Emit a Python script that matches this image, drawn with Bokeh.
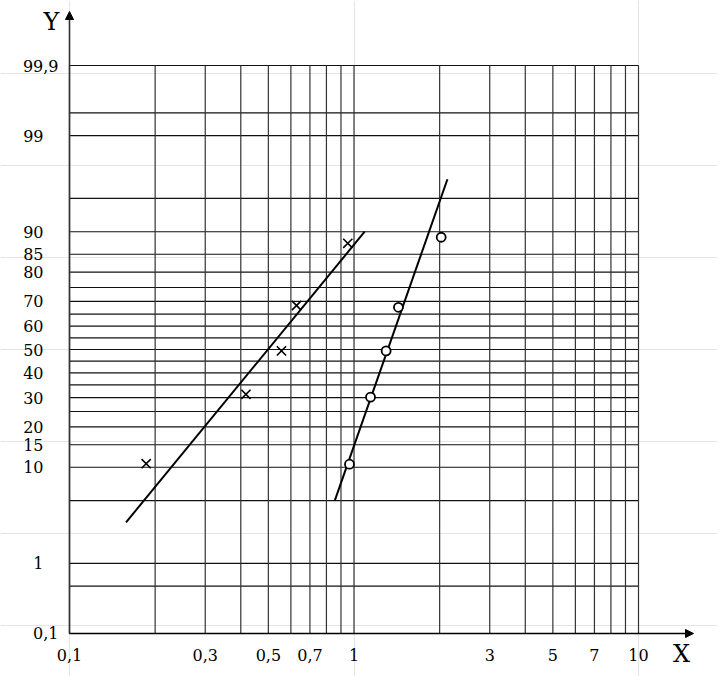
from statistics import NormalDist

from bokeh.plotting import figure
from bokeh.models import Range1d, LogScale, Arrow, NormalHead, Label, ColumnDataSource
from bokeh.core.properties import value
from bokeh.embed import file_html
from bokeh.resources import INLINE

# ---------------- data ----------------
x_grid = [0.1, 0.2, 0.3, 0.4, 0.5, 0.6, 0.7, 0.8, 0.9, 1, 2, 3, 4, 5, 6, 7, 8, 9, 10]
x_tick_values = [0.1, 0.3, 0.5, 0.7, 1, 3, 5, 7, 10]
x_tick_labels = ["0,1", "0,3", "0,5", "0,7", "1", "3", "5", "7", "10"]

y_grid = [0.1, 0.5, 1, 5, 10, 15, 20, 25, 30, 35, 40, 45, 50, 55, 60, 65, 70,
          75, 80, 85, 90, 95, 99, 99.5, 99.9]
y_tick_values = [0.1, 1, 10, 15, 20, 30, 40, 50, 60, 70, 80, 85, 90, 99, 99.9]
y_tick_labels = ["0,1", "1", "10", "15", "20", "30", "40", "50", "60", "70",
                 "80", "85", "90", "99", "99,9"]

cross_x = [0.186, 0.417, 0.556, 0.628, 0.951]
cross_y = [10.7, 31.3, 49.4, 68.4, 87.6]
circle_x = [0.964, 1.143, 1.297, 1.433, 2.025]
circle_y = [10.6, 30.2, 49.4, 67.7, 88.9]

cross_fit_x = [0.158, 1.09]
cross_fit_y = [3.0, 90.0]
circle_fit_x = [0.856, 2.13]
circle_fit_y = [5.0, 96.8]

# ---------------- probability (probit) transform ----------------
nd = NormalDist()


def probit(values):
    return [nd.inv_cdf(v / 100.0) for v in values]


# ---------------- layout ----------------
W, H = 717, 676
X0_PX = 69.0          # canvas px of x = 0.1
DEC_PX = 284.5        # px per decade
Z0_PX = 349.0         # canvas px (from top) of 50 %
SIG_PX = 91.9         # px per sigma

x_start = 10 ** (-1 - X0_PX / DEC_PX)
x_end = 10 ** (-1 + (W - X0_PX) / DEC_PX)
y_end = Z0_PX / SIG_PX
y_start = -(H - Z0_PX) / SIG_PX

p = figure(width=W, height=H, output_backend="svg", toolbar_location=None,
           x_axis_type="log", x_axis_location=None, y_axis_location=None,
           x_range=Range1d(x_start, x_end), y_range=Range1d(y_start, y_end),
           min_border=0, outline_line_color=None)
p.x_scale = LogScale()
p.background_fill_color = "white"
p.border_fill_color = "white"

FONT = value("DejaVu Serif")

zmin = probit([y_grid[0]])[0]
zmax = probit([y_grid[-1]])[0]
xmin, xmax = x_grid[0], x_grid[-1]

# grid
zg = probit(y_grid)
p.segment(x0=[xmin] * len(zg), x1=[xmax] * len(zg), y0=zg, y1=zg,
          line_color="#111111", line_width=1.2)
p.segment(x0=x_grid, x1=x_grid, y0=[zmin] * len(x_grid), y1=[zmax] * len(x_grid),
          line_color="#333333", line_width=1.2)

# axes with arrows
y_tip = (Z0_PX - 11) / SIG_PX
x_tip = 10 ** (-1 + (693 - X0_PX) / DEC_PX)
p.add_layout(Arrow(x_start=xmin, y_start=zmin, x_end=xmin, y_end=y_tip,
                   line_color="#333333", line_width=1.6,
                   end=NormalHead(size=8, fill_color="black", line_color="black")))
p.add_layout(Arrow(x_start=xmin, y_start=zmin, x_end=x_tip, y_end=zmin,
                   line_color="black", line_width=1.4,
                   end=NormalHead(size=8, fill_color="black", line_color="black")))

p.add_layout(Label(x=xmin, y=y_tip, text="Y", x_offset=-18, y_offset=-10,
                   text_align="center", text_baseline="middle",
                   text_font="DejaVu Serif", text_font_size="24px", text_color="black"))
p.add_layout(Label(x=x_tip, y=zmin, text="X", x_offset=-12, y_offset=-21,
                   text_align="center", text_baseline="middle",
                   text_font="DejaVu Serif", text_font_size="24px", text_color="black"))

# tick labels
p.text(x=x_tick_values, y=[zmin] * len(x_tick_values), text=x_tick_labels,
       text_align="center", text_baseline="middle", y_offset=22,
       text_font=FONT, text_font_size="16px", text_color="black")

yt = probit(y_tick_values)
src_y = ColumnDataSource(dict(
    x=[xmin] * len(yt), y=yt, text=y_tick_labels,
    xo=[-11 if "," in t else -26 for t in y_tick_labels]))
p.text(x="x", y="y", text="text", x_offset="xo", source=src_y,
       text_align="right", text_baseline="middle",
       text_font=FONT, text_font_size="16px", text_color="black")

# fitted lines
p.line(cross_fit_x, probit(cross_fit_y), line_color="black", line_width=2)
p.line(circle_fit_x, probit(circle_fit_y), line_color="black", line_width=2)

# data points
p.scatter(cross_x, probit(cross_y), marker="x", size=13, line_color="black",
          line_width=1.6)
p.scatter(circle_x, probit(circle_y), marker="circle", size=9, line_color="black",
          fill_color="white", line_width=1.8)

open("out.html", "w").write(file_html(p, INLINE))
